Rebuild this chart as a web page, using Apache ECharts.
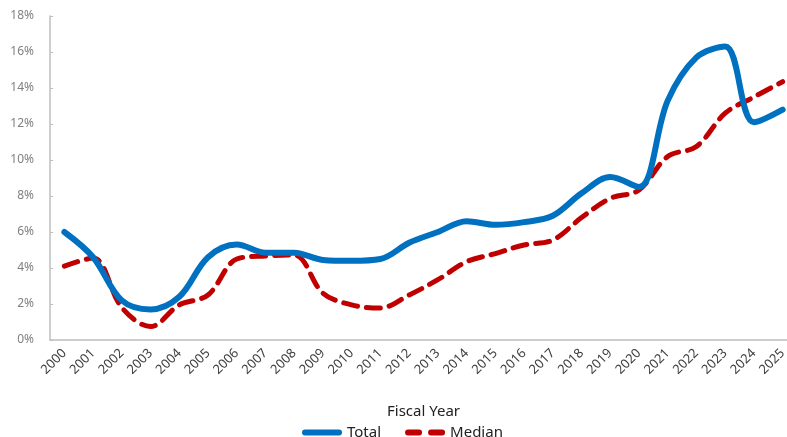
<!DOCTYPE html>
<html>
<head>
<meta charset="utf-8">
<script src="https://cdn.jsdelivr.net/npm/echarts@6/dist/echarts.min.js"></script>
<style>
html, body { margin: 0; padding: 0; background: #fff; overflow: hidden; }
/* the plot runs a little past the right edge in the reference, so the canvas is wider than the window */
#chart { width: 800px; height: 437px; }
</style>
</head>
<body>
<div id="chart"></div>
<script>
// fiscal years on the x axis
var years = ['2000', '2001', '2002', '2003', '2004', '2005', '2006', '2007', '2008', '2009',
	'2010', '2011', '2012', '2013', '2014', '2015', '2016', '2017', '2018', '2019',
	'2020', '2021', '2022', '2023', '2024', '2025'];

// percent values
var total = [6.0, 4.6, 2.2, 1.7, 2.4, 4.6, 5.3, 4.85, 4.85, 4.45,
	4.4, 4.5, 5.4, 6.0, 6.6, 6.4, 6.55, 6.9, 8.15, 9.05,
	8.5, 13.3, 15.7, 16.3, 12.1, 12.8];
var median = [4.1, 4.55, 1.8, 0.75, 1.95, 2.5, 4.5, 4.67, 4.72, 2.6,
	1.95, 1.78, 2.5, 3.35, 4.35, 4.8, 5.28, 5.55, 6.8, 7.87,
	8.33, 10.2, 10.75, 12.6, 13.5, 14.35];

var yMin = 0, yMax = 18, yStep = 2;

var axisGray = '#bfbfbf';
var font = 'Noto Sans';

var chart = echarts.init(document.getElementById('chart'));

chart.setOption({
	animation: false,
	textStyle: { fontFamily: font },
	grid: {
		left: 50,
		top: 16,
		width: 747,
		height: 324
	},
	legend: {
		top: 420,
		left: 297,
		itemWidth: 40,
		itemHeight: 7,
		itemGap: 24,
		textStyle: { color: '#222', fontSize: 15, fontFamily: font },
		data: [
			{ name: 'Total', icon: 'path://M3,0h34a3,3 0 0 1 0,6h-34a3,3 0 0 1 0,-6z' },
			{ name: 'Median', icon: 'path://M3,0h11a3,3 0 0 1 0,6h-11a3,3 0 0 1 0,-6z M26,0h11a3,3 0 0 1 0,6h-11a3,3 0 0 1 0,-6z' }
		]
	},
	xAxis: {
		type: 'category',
		data: years,
		boundaryGap: true,
		name: 'Fiscal Year',
		nameLocation: 'middle',
		nameGap: 64,
		nameTextStyle: { color: '#222', fontSize: 15, fontFamily: font },
		axisLine: { lineStyle: { color: axisGray, width: 1.5 } },
		axisTick: { inside: true, length: 3, lineStyle: { color: axisGray } },
		axisLabel: {
			rotate: 45,
			margin: 11,
			color: '#404040',
			fontSize: 13,
			fontFamily: font
		}
	},
	yAxis: {
		type: 'value',
		min: yMin,
		max: yMax,
		interval: yStep,
		splitLine: { show: false },
		axisLine: { show: true, lineStyle: { color: axisGray, width: 1.5 } },
		axisTick: { show: true, inside: true, length: 3, lineStyle: { color: axisGray } },
		axisLabel: {
			margin: 16,
			color: '#808080',
			fontSize: 12,
			fontFamily: font,
			formatter: function(v) {
				return v + '%';
			}
		}
	},
	series: [{
		name: 'Total',
		type: 'line',
		data: total,
		smooth: 0.35,
		symbol: 'none',
		z: 3,
		itemStyle: { color: '#0070c0' },
		lineStyle: { color: '#0070c0', width: 6, cap: 'round' }
	}, {
		name: 'Median',
		type: 'line',
		data: median,
		smooth: 0.35,
		symbol: 'none',
		z: 2,
		itemStyle: { color: '#c00000' },
		lineStyle: { color: '#c00000', width: 5, type: [14, 9], cap: 'round' }
	}]
});
</script>
</body>
</html>
